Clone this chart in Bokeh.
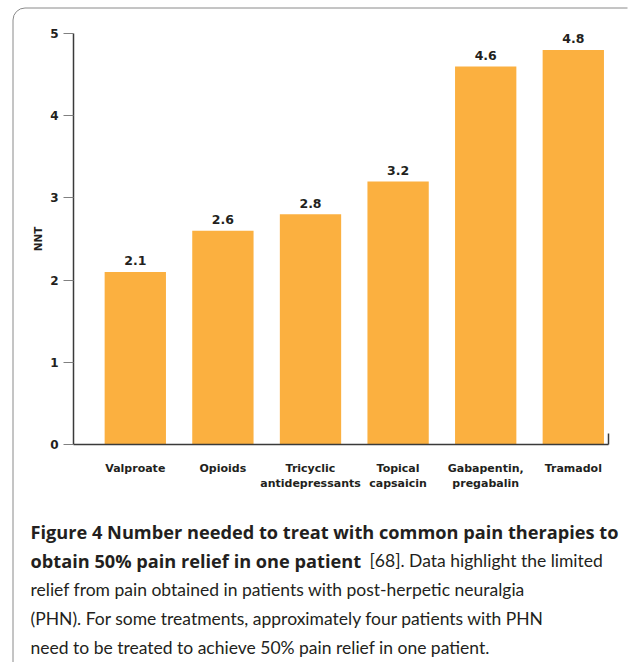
from bokeh.plotting import figure
from bokeh.models import FixedTicker, ColumnDataSource, Range1d, LinearAxis
from bokeh.core.properties import value
from bokeh.embed import file_html
from bokeh.resources import INLINE

# ---- data ----
treatments = ["Valproate", "Opioids", "Tricyclic\nantidepressants",
              "Topical\ncapsaicin", "Gabapentin,\npregabalin", "Tramadol"]
nnt = [2.1, 2.6, 2.8, 3.2, 4.6, 4.8]
value_labels = ["2.1", "2.6", "2.8", "3.2", "4.6", "4.8"]
y_ticks = [0, 1, 2, 3, 4, 5]
y_title = "NNT"

caption_bold_1 = "Figure 4 Number needed to treat with common pain therapies to"
caption_bold_2 = "obtain 50% pain relief in one patient"
caption_reg_2 = "[68]. Data highlight the limited"
caption_reg_rest = [
    "relief from pain obtained in patients with post-herpetic neuralgia",
    "(PHN). For some treatments, approximately four patients with PHN",
    "need to be treated to achieve 50% pain relief in one patient.",
]

# ---- layout geometry (pixels) ----
W, H = 631, 662
X0_PX, PX_PER_X = 134.8, 87.6     # pixel of first category centre, pixels per category
Y0_PX, PX_PER_Y = 444.0, 82.2     # pixel of y=0, pixels per NNT unit
XS = -X0_PX / PX_PER_X
XE = (W - X0_PX) / PX_PER_X
YE = Y0_PX / PX_PER_Y
YS = -(H - Y0_PX) / PX_PER_Y

def dx(px):
    return XS + px / PX_PER_X

def dy(py):
    return YE - py / PX_PER_Y

TXT = "#231f20"
BAR = "#FBB040"
AX = "#3a3a3a"
CHART_FONT = "DejaVu Sans"

xs = list(range(len(treatments)))
src = ColumnDataSource(dict(x=xs, nnt=nnt, label=value_labels))

p = figure(width=W, height=H,
           x_range=Range1d(XS, XE), y_range=Range1d(YS, YE),
           output_backend="svg", toolbar_location=None,
           x_axis_location=None, y_axis_location=None,
           min_border=0, min_border_left=0, min_border_right=0,
           min_border_top=0, min_border_bottom=0)
p.xgrid.visible = False
p.ygrid.visible = False
p.outline_line_color = None
p.background_fill_color = "white"
p.border_fill_color = "white"

x_lo, x_hi = dx(73), dx(608)

p.vbar(x="x", top="nnt", width=0.7, source=src, fill_color=BAR, line_color=None)
p.text(x="x", y="nnt", text="label", source=src, text_align="center",
       text_baseline="middle", y_offset=-11,
       text_font=value(CHART_FONT), text_font_style="bold",
       text_font_size="12.5px", text_color=TXT)

xa = LinearAxis(fixed_location=0, bounds=(x_lo, x_hi))
xa.ticker = FixedTicker(ticks=xs)
xa.major_label_overrides = {i: t for i, t in zip(xs, treatments)}
xa.major_tick_line_color = None
xa.major_tick_in = 0
xa.major_tick_out = 0
xa.minor_tick_line_color = None
xa.axis_line_color = AX
xa.axis_line_width = 1.5
xa.major_label_standoff = 17
xa.major_label_text_font = CHART_FONT
xa.major_label_text_font_style = "bold"
xa.major_label_text_font_size = "11px"
xa.major_label_text_color = TXT
p.add_layout(xa, "below")

ya = LinearAxis(fixed_location=x_lo, bounds=(0, 5))
ya.ticker = FixedTicker(ticks=y_ticks)
ya.major_tick_in = 0
ya.major_tick_out = 10
ya.major_tick_line_color = "#808080"
ya.minor_tick_line_color = None
ya.axis_line_color = AX
ya.axis_line_width = 1.5
ya.major_label_standoff = 5
ya.major_label_text_font = CHART_FONT
ya.major_label_text_font_style = "bold"
ya.major_label_text_font_size = "12px"
ya.major_label_text_color = TXT
ya.axis_label = y_title
ya.axis_label_text_font = CHART_FONT
ya.axis_label_text_font_style = "bold"
ya.axis_label_text_font_size = "10.5px"
ya.axis_label_text_color = TXT
ya.axis_label_standoff = 3
p.add_layout(ya, "left")

# small end cap at the right end of the x axis
ra = LinearAxis(fixed_location=x_hi, bounds=(0, 11 / PX_PER_Y))
ra.ticker = FixedTicker(ticks=[])
ra.major_label_text_font_size = "0px"
ra.major_tick_line_color = None
ra.minor_tick_line_color = None
ra.axis_line_color = AX
ra.axis_line_width = 1.5
p.add_layout(ra, "right")

# rounded panel border (left + top)
BC = "#8a8a8a"
r = 12
p.line(x=[dx(12.5), dx(12.5)], y=[dy(H), dy(7.5 + r)], line_color=BC, line_width=1)
p.line(x=[dx(12.5 + r), dx(627)], y=[dy(7.5), dy(7.5)], line_color=BC, line_width=1)
p.arc(x=[dx(12.5 + r)], y=[dy(7.5 + r)], radius=r, radius_units="screen",
      start_angle=1.5708, end_angle=3.1416, line_color=BC, line_width=1)

# caption
cap_x = 30
reg2_x = 369
mids = [531, 560, 589, 618, 647]

def cap(text, px, py, bold, align="left"):
    p.text(x=[dx(px)], y=[dy(py)], text=[text], text_align=align,
           text_baseline="middle",
           text_font=value("Open Sans" if bold else "Lato"),
           text_font_style="bold" if bold else "normal",
           text_font_size="18.2px" if bold else "17.5px", text_color=TXT)

cap(caption_bold_1, cap_x, mids[0], True)
cap(caption_bold_2, cap_x, mids[1], True)
cap(caption_reg_2, reg2_x, mids[1], False)
for k, line in enumerate(caption_reg_rest):
    cap(line, cap_x, mids[k + 2], False)

open("out.html", "w").write(file_html(p, INLINE))
